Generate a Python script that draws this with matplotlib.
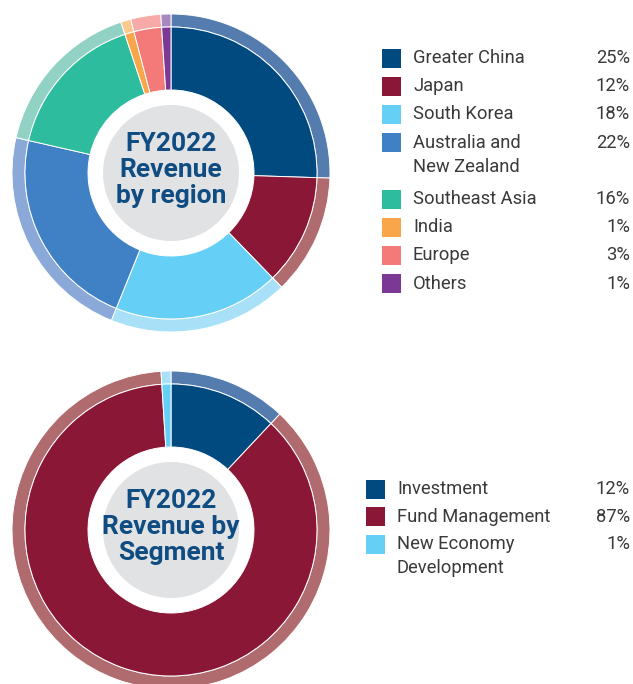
import matplotlib
matplotlib.use("Agg")
import matplotlib.pyplot as plt
from matplotlib.patches import Circle, Rectangle

# data
region_labels = ["Greater China", "Japan", "South Korea", "Australia and\nNew Zealand",
                 "Southeast Asia", "India", "Europe", "Others"]
region_share = [25, 12, 18, 22, 16, 1, 3, 1]

segment_labels = ["Investment", "Fund Management", "New Economy\nDevelopment"]
segment_share = [12, 87, 1]

# colours (inner wedge, outer ring)
region_colors = ["#004A80", "#8B1736", "#66CFF5", "#4080C4", "#2EBC9F", "#F9A54A", "#F37A78", "#7B3895"]
region_ring = ["#557CAE", "#B06B6E", "#A8E0F7", "#8AA8D8", "#92D2C4", "#FBC88F", "#F7AAA8", "#A987BF"]
segment_colors = ["#004A80", "#8B1736", "#66CFF5"]
segment_ring = ["#557CAE", "#B06B6E", "#A8E0F7"]

plt.rcParams['font.family'] = ['Roboto', 'DejaVu Sans']

W, H = 633, 684
fig = plt.figure(figsize=(W / 100, H / 100), dpi=100)
ax = fig.add_axes([0, 0, 1, 1])


def donut(cx, cy, values, colors, ring, title):
    c = (cx, H - cy)
    ax.pie(values, colors=ring, radius=159, center=c, startangle=90, counterclock=False,
           frame=True, wedgeprops=dict(width=13, edgecolor="white", linewidth=0.7))
    ax.pie(values, colors=colors, radius=146, center=c, startangle=90, counterclock=False,
           frame=True, wedgeprops=dict(width=63, edgecolor="white", linewidth=0.7))
    ax.add_patch(Circle(c, 68, facecolor="#E1E2E4", edgecolor="none", zorder=3))
    ax.text(c[0], c[1] + 3, title, ha="center", va="center", fontsize=19, fontweight="bold",
            color="#0F4C81", linespacing=1.08, zorder=4)


def legend(x0, y0, step, labels, values, colors, right):
    y = y0
    for lab, v, col in zip(labels, values, colors):
        ax.add_patch(Rectangle((x0, H - y - 9.5), 19, 19, facecolor=col, edgecolor="none"))
        lines = lab.split("\n")
        for k, ln in enumerate(lines):
            ax.text(x0 + 31, H - y - k * 24, ln, ha="left", va="center",
                    fontsize=13.2, color="#3A3A3A")
        ax.text(right, H - y, f"{v}%", ha="right", va="center", fontsize=13.2, color="#3A3A3A")
        y += step * len(lines)


donut(171, 173, region_share, region_colors, region_ring, "FY2022\nRevenue\nby region")
donut(171, 530, segment_share, segment_colors, segment_ring, "FY2022\nRevenue by\nSegment")

legend(382, 58, 28.2, region_labels, region_share, region_colors, 630)
legend(366, 489, 27.5, segment_labels, segment_share, segment_colors, 630)

ax.set_xlim(0, W)
ax.set_ylim(0, H)
ax.set_aspect("equal")
ax.axis("off")

fig.savefig("out.png", dpi=100, facecolor="white")
